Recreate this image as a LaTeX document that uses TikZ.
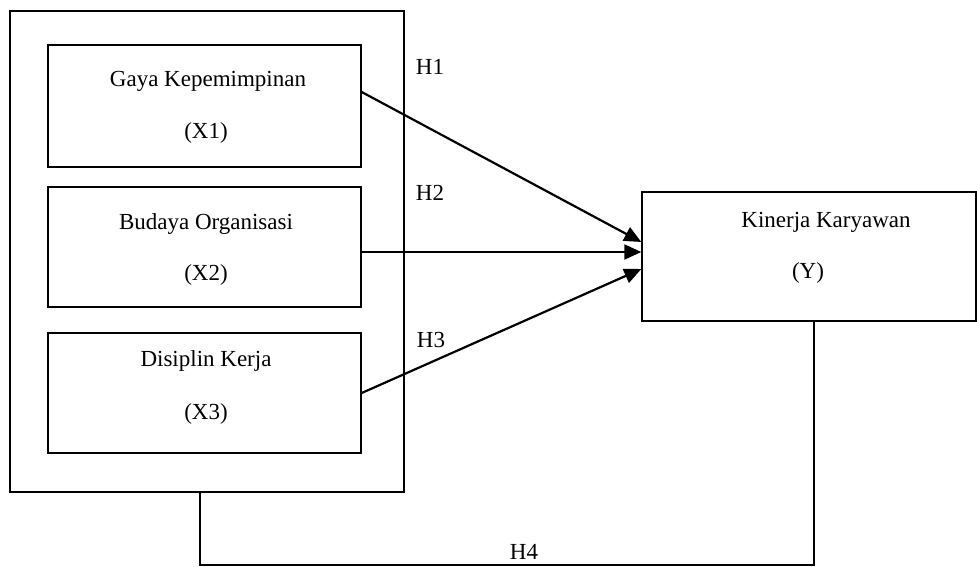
\documentclass[tikz,border=0pt]{standalone}
\usepackage{fontspec}
\setmainfont{Liberation Serif}
\usetikzlibrary{arrows.meta}
\begin{document}
\begin{tikzpicture}[x=1pt,y=-1pt,
  box/.style={draw=black,line width=1.4pt,inner sep=0pt,minimum width=#1},
  box/.default=313pt,
  lbl/.style={inner sep=0pt,font=\fontsize{23}{27}\selectfont},
  arr/.style={line width=2.2pt,-{Triangle[length=17pt,width=15pt]}},
  conn/.style={line width=1.8pt}]
\useasboundingbox (0,0) rectangle (977,567);
% boxes
\node[box=394pt,minimum height=481pt] (outer) at (207,251.5) {};
\node[box,minimum height=122pt] (x1) at (204.5,106) {};
\node[box,minimum height=120pt] (x2) at (204.5,247) {};
\node[box,minimum height=120pt] (x3) at (204.5,393) {};
\node[box=334pt,minimum height=129pt] (y) at (809,256.5) {};
% texts
\node[lbl] (t1a) at (208,81) {Gaya Kepemimpinan};
\node[lbl] (t1b) at (206,133) {(X1)};
\node[lbl] (t2a) at (206,224) {Budaya Organisasi};
\node[lbl] (t2b) at (206,275) {(X2)};
\node[lbl] (t3a) at (206,361) {Disiplin Kerja};
\node[lbl] (t3b) at (206,414) {(X3)};
\node[lbl] (tya) at (826,222) {Kinerja Karyawan};
\node[lbl] (tyb) at (808,273) {(Y)};
\node[lbl] (h1) at (430,67) {H1};
\node[lbl] (h2) at (430,193) {H2};
\node[lbl] (h3) at (431,340) {H3};
\node[lbl] (h4) at (524,552) {H4};
% arrows
\draw[arr] ([yshift=14pt]x1.east) -- ([yshift=14.5pt]y.west);
\draw[arr] ([yshift=-5pt]x2.east) -- ([yshift=4.5pt]y.west);
\draw[arr] (x3.east) -- ([yshift=-12.5pt]y.west);
% H4 connector
\coordinate (h4l) at (200,565);
\coordinate (h4r) at (814,565);
\draw[conn] ([xshift=-7pt]outer.south) -- (h4l) -- (h4r) -- ([xshift=5pt]y.south);
\end{tikzpicture}
\end{document}
